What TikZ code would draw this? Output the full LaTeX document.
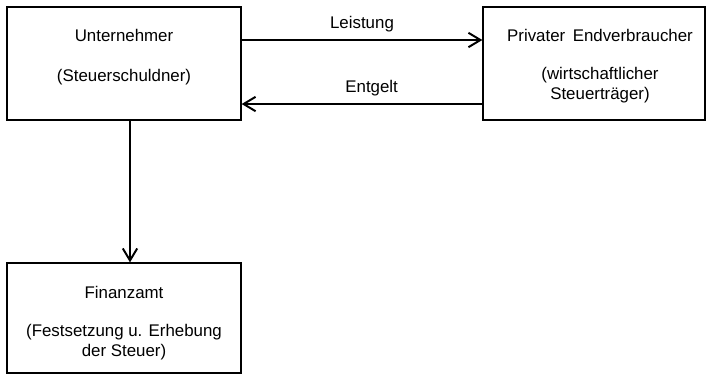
\documentclass[tikz,border=0pt]{standalone}
\usepackage{fontspec}
\setmainfont{Liberation Sans}
\usetikzlibrary{arrows.meta}
\begin{document}
\begin{tikzpicture}[x=0.025cm,y=-0.025cm]
		\tikzset{box/.style = {shape=rectangle,draw,line width=0.9pt,minimum width=5.85cm,minimum height=2.825cm}}
		\tikzset{txt/.style = {align=center,font=\fontsize{12}{14.2}\selectfont,inner sep=0pt}}
		\tikzset{flow/.style = {line width=1.4pt,-{Straight Barb[length=0.3cm,width=0.36cm,line width=1.4pt]}}}
		\useasboundingbox (0,0) rectangle (710,376);
		\node[box] (unt) at (124,63.5) {};
		\node[box,minimum width=5.55cm] (endv) at (594,63.5) {};
		\node[box,minimum height=2.75cm] (fa) at (124,318) {};
		\node[txt] (untName) at (124,35) {Unternehmer};
		\node[txt] (untRole) at (124,77) {(Steuerschuldner)};
		\node[txt] (endvName) at (600,35) {Privater \,Endverbraucher};
		\node[txt] (endvRole) at (600,85) {(wirtschaftlicher\\Steuerträger)};
		\node[txt] (faName) at (124,292) {Finanzamt};
		\node[txt] (faRole) at (124,342.5) {(Festsetzung u. Erhebung\\der Steuer)};
		\path[flow,draw] ([yshift=0.5875cm]unt.east) -- node[txt,above=5pt] {Leistung} ([yshift=0.5875cm]endv.west);
		\path[flow,draw] ([yshift=-1.0125cm]endv.west) -- node[txt,above=5pt,pos=0.46] {Entgelt} ([yshift=-1.0125cm]unt.east);
		\path[flow,draw] ([xshift=0.15cm]unt.south) -- ([xshift=0.15cm]fa.north);
	\end{tikzpicture}
\end{document}
